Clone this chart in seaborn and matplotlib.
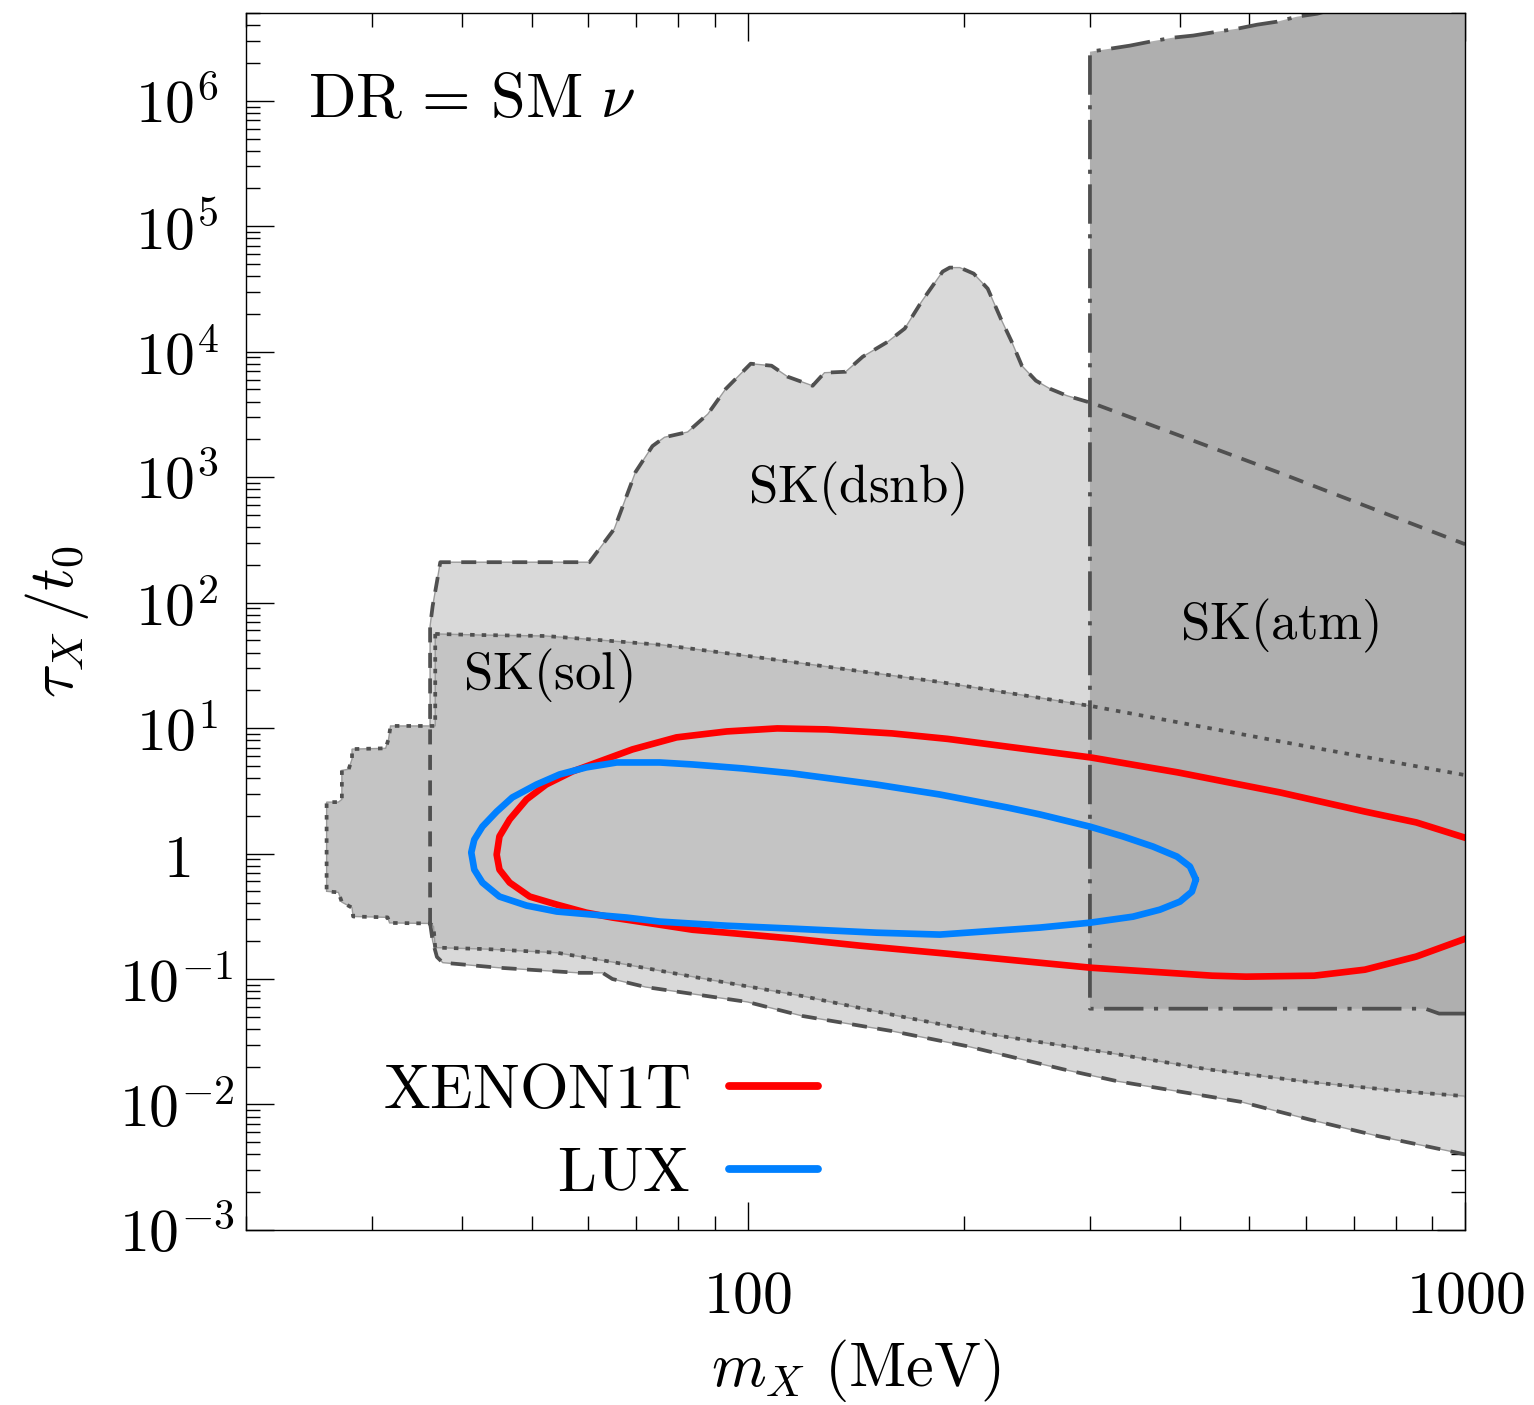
import numpy as np
import seaborn as sns
import matplotlib.pyplot as plt
from matplotlib.ticker import LogLocator, NullFormatter

# SK(dsnb): left side + upper edge, then lower edge (m in MeV, tau_X/t0)
dsnb_top_m = [36.1, 36.1, 36.4, 36.9, 37.3, 60.2, 65.2, 69.8, 73.7, 76.6, 82.5, 88.0, 93.2,
              101.0, 108.0, 113.7, 123.2, 128.0, 137.0, 144.7, 156.8, 165.6, 174.8, 187.0,
              191.3, 197.6, 206.6, 216.1, 225.4, 233.4, 241.1, 252.2, 263.8, 278.6, 303.8,
              552.0, 1000.0]
dsnb_top_tau = [0.28, 65, 94, 146, 210, 210, 387, 1100, 1770, 2080, 2290, 3180, 5040,
                8020, 7730, 6320, 5350, 6800, 6920, 9120, 1.2e4, 1.53e4, 2.51e4, 4.35e4,
                4.68e4, 4.68e4, 4.19e4, 3.18e4, 1.83e4, 1.2e4, 7730, 5880, 5070, 4460, 3850,
                1080, 292]
dsnb_bot_m = [36.1, 36.4, 36.9, 37.6, 45.0, 58.1, 62.8, 64.8, 72.1, 100.0, 119.3, 158.8,
              202.0, 275.0, 328.0, 487.0, 606.0, 756.0, 1000.0]
dsnb_bot_tau = [0.28, 0.20, 0.15, 0.135, 0.123, 0.112, 0.112, 0.100, 0.0863, 0.0656, 0.0507,
                0.0385, 0.0292, 0.0191, 0.0153, 0.0105, 0.0076, 0.0056, 0.0040]

# SK(sol): upper edge, and left bump + lower edge
sol_top_m = [36.7, 42.2, 52.3, 64.8, 76.1, 100.0, 185.3, 300.9, 588.8, 1000.0]
sol_top_tau = [56.3, 55.2, 54.2, 49.4, 46.0, 37.6, 23.3, 15.0, 7.31, 4.22]
sol_low_m = [36.7, 36.7, 31.8, 31.6, 31.3, 28.1, 28.1, 27.8, 27.2, 27.2, 26.9, 25.9, 25.9,
             26.9, 27.2, 28.1, 28.2, 31.5, 31.7, 36.1, 36.5, 36.7, 43.4, 54.2, 64.6, 84.1,
             119.3, 162.4, 225.4, 313.8, 436.8, 606.0, 843.0, 1000.0]
sol_low_tau = [56.3, 10.4, 10.4, 8.2, 6.9, 6.8, 5.66, 4.7, 4.6, 2.7, 2.57, 2.57, 0.50,
               0.49, 0.41, 0.37, 0.315, 0.31, 0.28, 0.277, 0.262, 0.178, 0.173, 0.162, 0.137,
               0.104, 0.0731, 0.0507, 0.0351, 0.0262, 0.0191, 0.0151, 0.01254, 0.01165]

# SK(atm)
atm_m = [1000, 920, 880, 300, 300, 320, 341, 364, 391, 418, 451, 481, 513, 547, 583, 622,
         650, 1000]
atm_tau = [0.053, 0.053, 0.058, 0.058, 2.46e6, 2.6e6, 2.75e6, 2.96e6, 3.18e6, 3.31e6,
           3.55e6, 3.75e6, 4.04e6, 4.27e6, 4.68e6, 4.94e6, 5.3e6, 5.3e6]

# XENON1T and LUX contours
xenon_m = [1020, 855, 725, 552, 398, 301, 190, 159, 129, 110, 93.5, 79.6, 69.1, 62.2, 57.0,
           52.4, 49.2, 46.6, 45.1, 44.7, 45.1, 46.6, 49.7, 54.2, 59.6, 64.8, 72.3, 83.8,
           93.5, 115.5, 143.3, 190, 301, 444, 495, 616, 725, 855, 1020]
xenon_tau = [1.29, 1.77, 2.16, 3.07, 4.43, 5.83, 8.2, 9.07, 9.76, 9.94, 9.4, 8.43, 6.76,
             5.42, 4.51, 3.55, 2.70, 1.87, 1.37, 0.98, 0.745, 0.587, 0.454, 0.392, 0.338,
             0.309, 0.281, 0.247, 0.234, 0.21, 0.1845, 0.159, 0.123, 0.1063, 0.1044, 0.1063,
             0.1187, 0.151, 0.218]
lux_m = [421.5, 413.5, 396.6, 367.2, 333.4, 299.9, 255.5, 230, 185, 151, 115.5, 98.4, 83.8,
         75.4, 65.7, 59.6, 54.7, 50.8, 47.0, 44.7, 42.7, 41.6, 41.2, 41.6, 42.7, 45.1, 49.2,
         54.2, 60.8, 67.8, 75.4, 93.5, 115.5, 151.3, 185.3, 255.5, 299.9, 344.4, 375.5,
         400.5, 416.1, 421.5]
lux_tau = [0.62, 0.788, 0.946, 1.137, 1.37, 1.64, 2.05, 2.33, 2.96, 3.55, 4.35, 4.77, 5.13,
           5.32, 5.32, 4.86, 4.27, 3.55, 2.80, 2.16, 1.64, 1.29, 1.02, 0.745, 0.587, 0.454,
           0.385, 0.345, 0.326, 0.309, 0.287, 0.266, 0.252, 0.234, 0.226, 0.257, 0.281,
           0.314, 0.357, 0.414, 0.497, 0.62]

y_ticks = [1e-3, 1e-2, 1e-1, 1, 10, 1e2, 1e3, 1e4, 1e5, 1e6]
y_labels = [r"$10^{-3}$", r"$10^{-2}$", r"$10^{-1}$", r"$1$", r"$10^{1}$", r"$10^{2}$",
            r"$10^{3}$", r"$10^{4}$", r"$10^{5}$", r"$10^{6}$"]
x_ticks = [100, 1000]
x_labels = [r"$100$", r"$1000$"]


def main():
    sns.set_style("ticks")
    plt.rcParams["mathtext.fontset"] = "cm"
    plt.rcParams["font.family"] = ["DejaVu Serif"]
    for key in ["text.color", "axes.labelcolor", "xtick.color", "ytick.color",
                "axes.edgecolor"]:
        plt.rcParams[key] = "black"

    fig = plt.figure(figsize=(15.34, 14.05), dpi=100)
    ax = fig.add_axes([0.1604, 0.1246, 0.7947, 0.8661])
    ax.set_xscale("log")
    ax.set_yscale("log")

    light, mid, dark = "#d9d9d9", "#c4c4c4", "#afafaf"
    edge = "#9b9b9b"
    lc = "#505050"

    # filled regions
    ax.fill(dsnb_top_m + dsnb_bot_m[::-1], dsnb_top_tau + dsnb_bot_tau[::-1],
            facecolor=light, edgecolor=edge, lw=1.0, zorder=1)
    ax.fill(sol_top_m + sol_low_m[::-1], sol_top_tau + sol_low_tau[::-1],
            facecolor=mid, edgecolor=edge, lw=1.0, zorder=1.1)
    ax.fill(atm_m, atm_tau, facecolor=dark, edgecolor="none", zorder=1.2)

    # boundary lines
    dashed = (0, (4, 2.8))
    dotted = (0, (1.2, 1.9))
    dashdot = (0, (10.5, 2.8, 1.1, 2.8))
    ax.plot(dsnb_top_m, dsnb_top_tau, color=lc, lw=2.7, ls=dashed, zorder=2)
    ax.plot(dsnb_bot_m, dsnb_bot_tau, color=lc, lw=2.7, ls=dashed, zorder=2)
    ax.plot(sol_top_m, sol_top_tau, color=lc, lw=2.7, ls=dotted, zorder=2)
    ax.plot(sol_low_m, sol_low_tau, color=lc, lw=2.7, ls=dotted, zorder=2)
    ax.plot(atm_m, atm_tau, color=lc, lw=2.7, ls=dashdot, zorder=2)

    # experiment contours
    sns.lineplot(x=xenon_m, y=xenon_tau, sort=False, estimator=None, color="#ff0000",
                 lw=4.8, label=r"$\mathrm{XENON1T}$", ax=ax, zorder=3)
    sns.lineplot(x=lux_m, y=lux_tau, sort=False, estimator=None, color="#0080ff",
                 lw=4.8, label=r"$\mathrm{LUX}$", ax=ax, zorder=3)

    ax.set_xlim(20, 1000)
    ax.set_ylim(1e-3, 5e6)

    ax.set_xticks(x_ticks, x_labels)
    ax.xaxis.set_minor_locator(LogLocator(base=10, subs=np.arange(2, 10), numticks=20))
    ax.xaxis.set_minor_formatter(NullFormatter())
    ax.set_yticks(y_ticks, y_labels, ha="center")
    ax.yaxis.set_minor_locator(LogLocator(base=10, subs=np.arange(2, 10), numticks=30))
    ax.yaxis.set_minor_formatter(NullFormatter())

    ax.tick_params(which="both", direction="in", top=True, right=True, width=1.0,
                   color="black", labelcolor="black", labelsize=43)
    ax.tick_params(which="major", length=20)
    ax.tick_params(which="minor", length=10)
    ax.tick_params(axis="y", which="major", pad=50)
    ax.tick_params(axis="x", which="major", pad=27)
    for sp in ax.spines.values():
        sp.set_linewidth(1.0)
        sp.set_color("black")
        sp.set_zorder(5)

    ax.set_xlabel(r"$m_X\ (\mathrm{MeV})$", fontsize=45, labelpad=8)
    ax.set_ylabel(r"$\tau_X\,/t_0$", fontsize=45, labelpad=20)

    ax.text(0.051, 0.9145, r"$\mathrm{DR}\,=\,\mathrm{SM}\ \nu$", transform=ax.transAxes,
            fontsize=45, ha="left", va="baseline")
    ax.text(100, 631, r"$\mathrm{SK(dsnb)}$", fontsize=38, ha="left", va="baseline", zorder=4)
    ax.text(40.1, 20.5, r"$\mathrm{SK(sol)}$", fontsize=38, ha="left", va="baseline", zorder=4)
    ax.text(400, 50.4, r"$\mathrm{SK(atm)}$", fontsize=38, ha="left", va="baseline", zorder=4)

    leg = ax.legend(loc="lower left", bbox_to_anchor=(0.1124, 0.0213), borderaxespad=0,
                    borderpad=0, frameon=False, markerfirst=False, fontsize=45,
                    handlelength=1.42, handletextpad=0.62, labelspacing=0.35)
    for h in leg.get_lines():
        h.set_linewidth(5.6)

    fig.savefig("out.png", dpi=100)
    plt.close(fig)


if __name__ == "__main__":
    main()
